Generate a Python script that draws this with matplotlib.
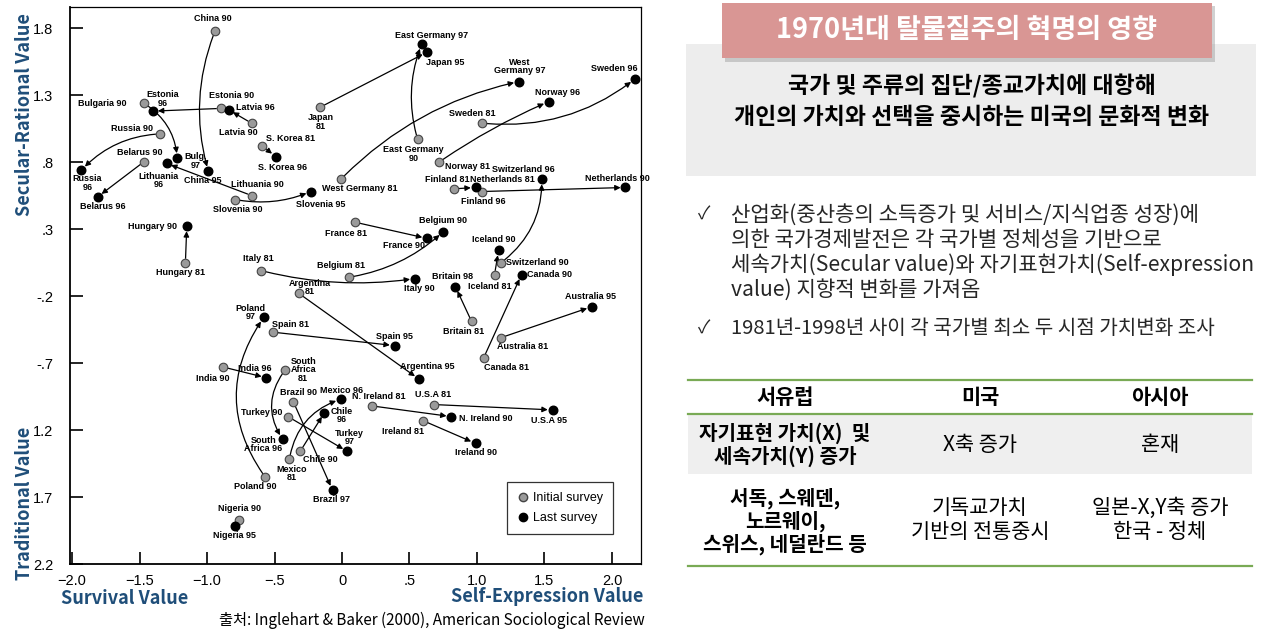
import matplotlib
matplotlib.use('Agg')
import matplotlib.pyplot as plt
from matplotlib.lines import Line2D
from matplotlib.patches import Rectangle

plt.rcParams['font.family'] = ['Liberation Sans', 'DejaVu Sans']

W, H = 1280, 639
KR = ['Noto Sans CJK KR', 'DejaVu Sans']
BLUE = '#1f4e79'
GREEN = '#79aa55'

# ---- values (x = survival/self-expression, y = traditional/secular-rational)
countries = ['China', 'Bulgaria', 'Estonia', 'Latvia', 'Russia', 'Belarus', 'Lithuania',
             'Slovenia', 'Japan', 'East Germany', 'S. Korea', 'West Germany', 'Norway',
             'Sweden', 'Finland', 'Netherlands', 'Switzerland', 'Hungary', 'France',
             'Belgium', 'Italy', 'Iceland', 'Britain', 'Canada', 'Australia', 'Argentina',
             'Spain', 'Poland', 'India', 'South Africa', 'Brazil', 'Turkey', 'Chile',
             'Mexico', 'N. Ireland', 'USA', 'Ireland', 'Nigeria']
start_label = ['China 90', 'Bulgaria 90', 'Estonia 90', 'Latvia 90', 'Russia 90', 'Belarus 90',
               'Lithuania 90', 'Slovenia 90', 'Japan\n81', 'East Germany\n90', 'S. Korea 81',
               'West Germany 81', 'Norway 81', 'Sweden 81', 'Finland 81', 'Netherlands 81',
               'Switzerland 90', 'Hungary 81', 'France 81', 'Belgium 81', 'Italy 81',
               'Iceland 81', 'Britain 81', 'Canada 81', 'Australia 81', 'Argentina\n81',
               'Spain 81', 'Poland 90', 'India 90', 'South\nAfrica\n81', 'Brazil 90',
               'Turkey 90', 'Chile 90', 'Mexico\n81', 'N. Ireland 81', 'U.S.A 81',
               'Ireland 81', 'Nigeria 90']
end_label = ['China 95', 'Bulg.\n97', 'Estonia\n96', 'Latvia 96', 'Russia\n96', 'Belarus 96',
             'Lithuania\n96', 'Slovenia 95', 'Japan 95', 'East Germany 97', 'S. Korea 96',
             'West\nGermany 97', 'Norway 96', 'Sweden 96', 'Finland 96', 'Netherlands 90',
             'Switzerland 96', 'Hungary 90', 'France 90', 'Belgium 90', 'Italy 90',
             'Iceland 90', 'Britain 98', 'Canada 90', 'Australia 95', 'Argentina 95',
             'Spain 95', 'Poland\n97', 'India 96', 'South\nAfrica 96', 'Brazil 97',
             'Turkey\n97', 'Chile\n96', 'Mexico 96', 'N. Ireland 90', 'U.S.A 95',
             'Ireland 90', 'Nigeria 95']
x_start = [-0.94, -1.47, -0.90, -0.67, -1.35, -1.47, -0.67, -0.79, -0.16, 0.56, -0.59,
           -0.01, 0.72, 1.04, 0.83, 1.04, 1.18, -1.16, 0.10, 0.05, -0.60, 1.13, 0.96,
           1.05, 1.18, -0.32, -0.51, -0.57, -0.88, -0.42, -0.36, -0.40, -0.31, -0.39,
           0.22, 0.68, 0.60, -0.76]
y_start = [1.78, 1.24, 1.20, 1.09, 1.01, 0.80, 0.55, 0.52, 1.21, 0.97, 0.92, 0.67, 0.80,
           1.09, 0.60, 0.58, 0.05, 0.05, 0.35, -0.06, -0.01, -0.04, -0.39, -0.66, -0.51,
           -0.18, -0.47, -1.55, -0.73, -0.75, -0.99, -1.10, -1.36, -1.42, -1.02, -1.01,
           -1.13, -1.87]
x_end = [-0.99, -1.22, -1.40, -0.84, -1.93, -1.81, -1.30, -0.23, 0.63, 0.59, -0.49, 1.31,
         1.53, 2.17, 0.99, 2.10, 1.48, -1.15, 0.63, 0.75, 0.54, 1.16, 0.84, 1.33, 1.85,
         0.57, 0.39, -0.58, -0.56, -0.44, -0.07, 0.04, -0.13, -0.01, 0.81, 1.56, 0.99,
         -0.79]
y_end = [0.73, 0.83, 1.18, 1.19, 0.74, 0.54, 0.79, 0.58, 1.62, 1.68, 0.84, 1.40, 1.25,
         1.42, 0.61, 0.61, 0.67, 0.32, 0.23, 0.28, -0.07, 0.14, -0.13, -0.04, -0.28,
         -0.82, -0.57, -0.36, -0.81, -1.27, -1.65, -1.36, -1.07, -0.97, -1.10, -1.05,
         -1.30, -1.92]

x_ticks = [-2.0, -1.5, -1.0, -0.5, 0.0, 0.5, 1.0, 1.5, 2.0]
x_ticklabels = ['\u22122.0', '\u22121.5', '\u22121.0', '\u2212.5', '0', '.5', '1.0', '1.5', '2.0']
y_ticks = [1.8, 1.3, 0.8, 0.3, -0.2, -0.7, -1.2, -1.7, -2.2]
y_ticklabels = ['1.8', '1.3', '.8', '.3', '-.2', '-.7', '1.2', '1.7', '2.2']

# curvature of the connecting arrows
bend = {'China': 0.17, 'Bulgaria': -0.25, 'Russia': 0.2, 'Slovenia': 0.15,
        'East Germany': -0.17, 'West Germany': -0.15, 'Norway': -0.05, 'Sweden': 0.2,
        'Switzerland': 0.25, 'Belgium': 0.15, 'Italy': 0.1, 'Poland': -0.35,
        'South Africa': 0.35, 'Mexico': -0.3}

# label offsets in pixels (dx, dy up) for start / end points
off_start = [(-2, 12), (-41, 0), (11, 13), (-13, -9), (-28, 5), (-4, 10), (6, 11), (2, -10),
             (0, -15), (-4, -15), (28, 7), (19, -9), (28, -4), (-10, 10), (-7, 9), (20, 12),
             (36, 0), (-5, -10), (-9, -11), (-8, 12), (-3, 12), (-5, -12), (-8, -10),
             (23, -10), (21, -9), (11, 6), (17, 8), (-10, -10), (-10, -11), (18, 0), (5, 9),
             (-26, 4), (20, -8), (2, -14), (7, 9), (-1, 10), (-20, -11), (0, 11)]
off_end = [(-6, -9), (18, -3), (10, 12), (27, 2), (6, -13), (5, -10), (-8, -17), (10, -13),
           (18, -10), (10, 9), (7, -11), (1, 15), (9, 9), (-21, 10), (8, -14), (-8, 9),
           (-18, 10), (-34, 0), (-23, -7), (0, 11), (4, -10), (-5, 11), (-3, 10), (28, 0),
           (-1, 10), (8, 13), (0, 9), (-13, 5), (-12, 9), (-19, -5), (-1, -9), (2, 14),
           (17, -3), (1, 9), (34, -2), (-4, -11), (0, -9), (-1, -9)]

fig = plt.figure(figsize=(12.8, 6.39), dpi=100)
ax = fig.add_axes([70 / W, 1 - 564 / H, 571 / W, 557 / H])
ax.set_xlim(-2.015, 2.215)
ax.set_ylim(-2.2, 1.957)

for i, c in enumerate(countries):
    if abs(x_end[i] - x_start[i]) + abs(y_end[i] - y_start[i]) < 0.1:
        continue
    ax.annotate('', xy=(x_end[i], y_end[i]), xytext=(x_start[i], y_start[i]),
                arrowprops=dict(arrowstyle='-|>', color='black', lw=0.9, shrinkA=3,
                                shrinkB=3.5, mutation_scale=8,
                                connectionstyle='arc3,rad=%s' % bend.get(c, 0)))

ax.scatter(x_start, y_start, s=38, c='#9a9a9a', edgecolors='#444444', linewidths=0.8, zorder=3)
ax.scatter(x_end, y_end, s=38, c='black', zorder=3)

for i in range(len(countries)):
    ax.annotate(start_label[i], (x_start[i], y_start[i]), xytext=off_start[i],
                textcoords='offset pixels', ha='center', va='center', fontsize=6.5,
                fontweight='bold', linespacing=0.95)
    ax.annotate(end_label[i], (x_end[i], y_end[i]), xytext=off_end[i],
                textcoords='offset pixels', ha='center', va='center', fontsize=6.5,
                fontweight='bold', linespacing=0.95)

ax.set_xticks(x_ticks)
ax.set_xticklabels(x_ticklabels)
ax.set_yticks(y_ticks)
ax.set_yticklabels(y_ticklabels)
ax.tick_params(direction='in', length=9, width=1.2, labelsize=10.5)
ax.tick_params(axis='y', pad=12)
ax.tick_params(axis='x', pad=7)
for s in ['left', 'bottom']:
    ax.spines[s].set_linewidth(1.3)
for s in ['top', 'right']:
    ax.spines[s].set_linewidth(0.9)

handles = [Line2D([], [], marker='o', ls='', mfc='#9a9a9a', mec='#444444', ms=6,
                  label='Initial survey'),
           Line2D([], [], marker='o', ls='', mfc='black', mec='black', ms=6,
                  label='Last survey')]
leg = ax.legend(handles=handles, loc='lower right', bbox_to_anchor=(0.951, 0.054),
                fancybox=False, edgecolor='black', fontsize=9, handletextpad=0.3,
                borderpad=0.8, labelspacing=0.6, handlelength=1.0, borderaxespad=0)
leg.get_frame().set_linewidth(0.9)

# axis titles
lab = dict(color=BLUE, fontweight='bold', fontsize=13, family=KR)
fig.text(25 / W, 1 - 115 / H, 'Secular-Rational Value', rotation=90, ha='center', va='center', **lab)
fig.text(25 / W, 1 - 503 / H, 'Traditional Value', rotation=90, ha='center', va='center', **lab)
fig.text(125 / W, 1 - 598 / H, 'Survival Value', ha='center', va='center', **lab)
fig.text(547 / W, 1 - 596 / H, 'Self-Expression Value', ha='center', va='center', **lab)
fig.text(645 / W, 1 - 620 / H, '출처: Inglehart & Baker (2000), American Sociological Review',
         ha='right', va='center', fontsize=11, family=KR)


# ---- right panel
def box(x0, y0, x1, y1, **kw):
    fig.add_artist(Rectangle((x0 / W, 1 - y1 / H), (x1 - x0) / W, (y1 - y0) / H,
                             transform=fig.transFigure, **kw))


def txt(px, py, s, **kw):
    fig.text(px / W, 1 - py / H, s, family=KR, **kw)


def hline(py, x0=688, x1=1252):
    fig.add_artist(Line2D([x0 / W, x1 / W], [1 - py / H] * 2, color=GREEN, lw=1.6))


box(686, 44, 1256, 176, color='#ededed', lw=0)
box(725, 6, 1215, 62, color='#999999', alpha=0.45, lw=0)
box(722, 3, 1212, 58, color='#d99694', lw=0)
txt(967, 30, '1970년대 탈물질주의 혁명의 영향', ha='center', va='center', fontsize=19.5,
    fontweight='bold', color='white')
txt(972, 86, '국가 및 주류의 집단/종교가치에 대항해', ha='center', va='center', fontsize=16.5,
    fontweight='bold', color='black')
txt(972, 117, '개인의 가치와 선택을 중시하는 미국의 문화적 변화', ha='center', va='center',
    fontsize=16.5, fontweight='bold', color='black')

bullet_lines = ['산업화(중산층의 소득증가 및 서비스/지식업종 성장)에',
                '의한 국가경제발전은 각 국가별 정체성을 기반으로',
                '세속가치(Secular value)와 자기표현가치(Self-expression',
                'value) 지향적 변화를 가져옴']
for k, line in enumerate(bullet_lines):
    txt(731, 215 + 25 * k, line, ha='left', va='center', fontsize=15.2, color='#262626')
txt(704, 215, '✓', ha='center', va='center', fontsize=13, color='#262626')
txt(704, 329, '✓', ha='center', va='center', fontsize=13, color='#262626')
txt(731, 329, '1981년-1998년 사이 각 국가별 최소 두 시점 가치변화 조사', ha='left',
    va='center', fontsize=14.5, color='#262626')

# table
box(688, 414, 1252, 474, color='#efefef', lw=0)
hline(380)
hline(414)
hline(566)
cols = [785, 980, 1160]
for cx, head in zip(cols, ['서유럽', '미국', '아시아']):
    txt(cx, 397, head, ha='center', va='center', fontsize=15, fontweight='bold')
txt(cols[0], 445, '자기표현 가치(X)  및\n세속가치(Y) 증가', ha='center', va='center',
    fontsize=14.5, fontweight='bold', linespacing=1.1)
txt(cols[1], 445, 'X축 증가', ha='center', va='center', fontsize=15)
txt(cols[2], 445, '혼재', ha='center', va='center', fontsize=15)
txt(cols[0], 521, '서독, 스웨덴,\n노르웨이,\n스위스, 네덜란드 등', ha='center', va='center',
    fontsize=14.5, fontweight='bold', linespacing=1.1)
txt(cols[1], 520, '기독교가치\n기반의 전통중시', ha='center', va='center', fontsize=15,
    linespacing=1.15)
txt(cols[2], 520, '일본-X,Y축 증가\n한국 - 정체', ha='center', va='center', fontsize=15,
    linespacing=1.15)

fig.savefig('out.png', dpi=100)
